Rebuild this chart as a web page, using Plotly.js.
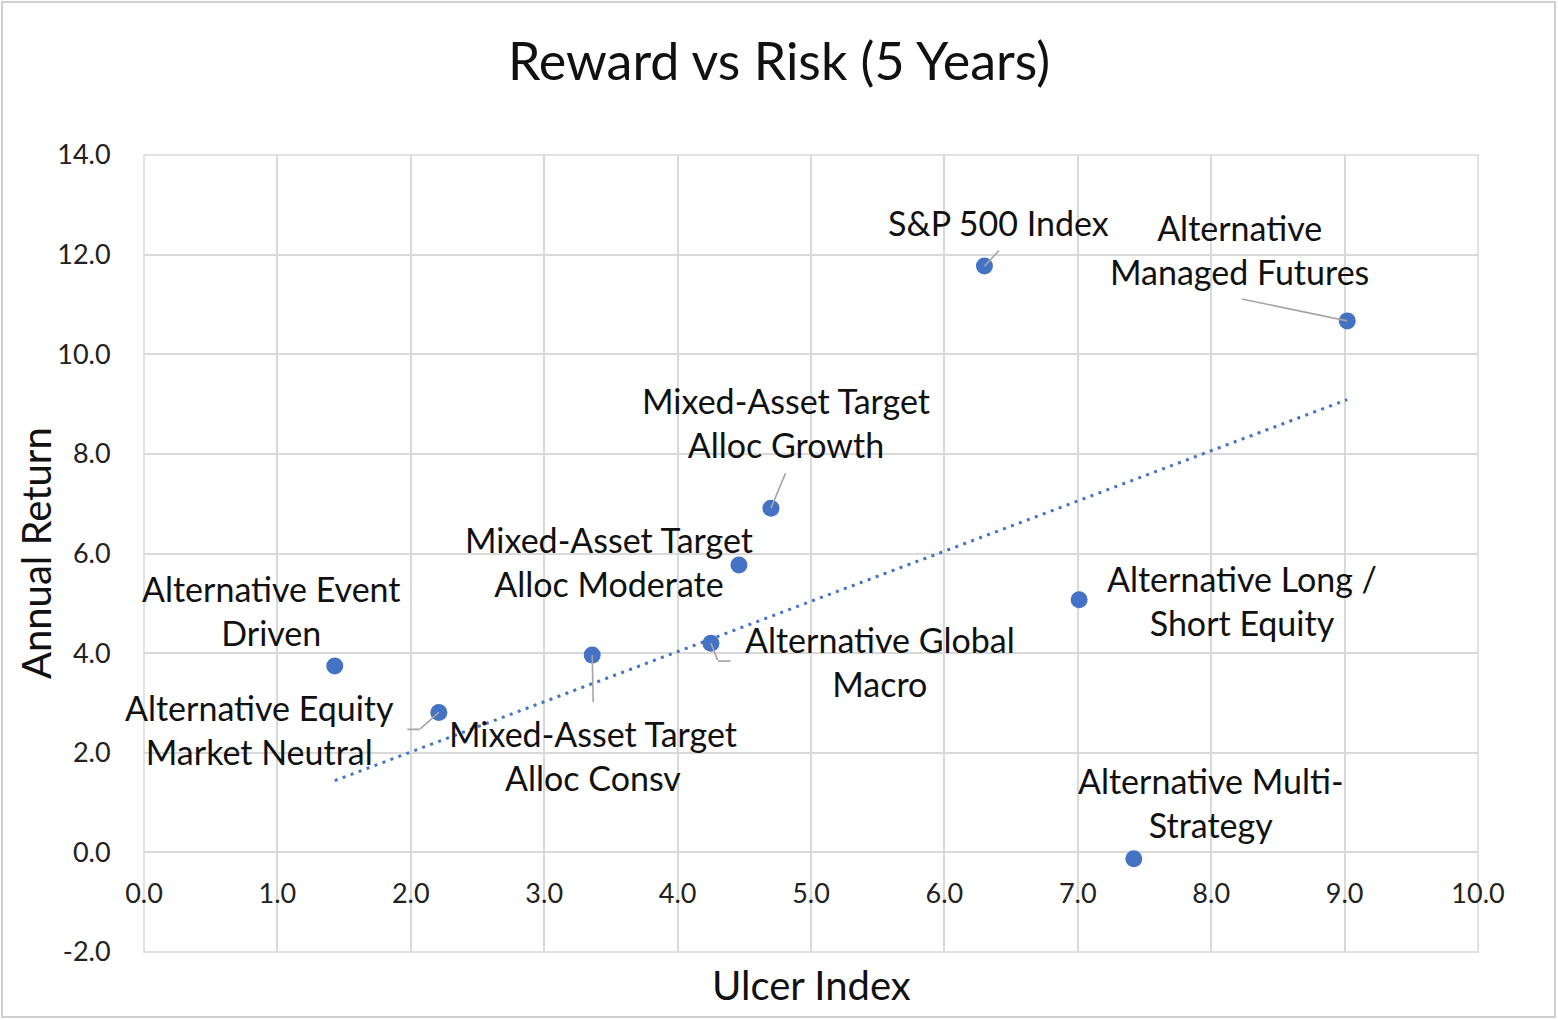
<!DOCTYPE html>
<html><head><meta charset="utf-8">
<script src="https://cdn.plot.ly/plotly-3.0.1.min.js"></script>
<style>html,body{margin:0;padding:0;background:#fff}#chart{width:1558px;height:1020px}</style>
</head><body><div id="chart"></div>
<script>
// ---- data ----
const fundNames = [
  'Alternative Event Driven',
  'Alternative Equity Market Neutral',
  'Mixed-Asset Target Alloc Consv',
  'Alternative Global Macro',
  'Mixed-Asset Target Alloc Moderate',
  'Mixed-Asset Target Alloc Growth',
  'S&P 500 Index',
  'Alternative Long / Short Equity',
  'Alternative Multi-Strategy',
  'Alternative Managed Futures'
];
const labelText = [
  'Alternative Event<br>Driven',
  'Alternative Equity<br>Market Neutral',
  'Mixed-Asset Target<br>Alloc Consv',
  'Alternative Global<br>Macro',
  'Mixed-Asset Target<br>Alloc Moderate',
  'Mixed-Asset Target<br>Alloc Growth',
  'S&P 500 Index',
  'Alternative Long /<br>Short Equity',
  'Alternative Multi-<br>Strategy',
  'Alternative<br>Managed Futures'
];
const ulcerIndex   = [1.43, 2.21, 3.36, 4.25, 4.46, 4.70, 6.30, 7.01, 7.42, 9.02];
const annualReturn = [3.74, 2.81, 3.96, 4.20, 5.77, 6.91, 11.77, 5.07, -0.13, 10.67];
const xTickVals = [0,1,2,3,4,5,6,7,8,9,10];
const yTickVals = [-2,0,2,4,6,8,10,12,14];
const xTickText = xTickVals.map(v => v.toFixed(1));
const yTickText = yTickVals.map(v => v.toFixed(1));

// ---- styling: label placement offsets in pixels (dx right, dy up) ----
const labelShift = [
  [-63, 56], [-179, -17], [1, -100], [169, -18], [-130, 3],
  [15, 86], [14, 44], [163, -1], [77, 56], [-108, 71]
];
// leader segments: [pointIndex, headShiftX, headShiftY(up), ax, ay]
const leaders = [
  [6, 0, 0, 15, -16],
  [9, 0, 0, -106, -22],
  [5, 0, 0, 15, -36],
  [2, 0, 0, 1, 48],
  [3, 0, 0, 7, 18],
  [3, 7, -18, 13, 0],
  [1, 0, 0, -19, 17],
  [1, -19, -17, -13, 0]
];

// trendline: linear fit forced through the origin (as in the reference)
let sxy = 0, sxx = 0;
for (let i = 0; i < ulcerIndex.length; i++) { sxy += ulcerIndex[i]*annualReturn[i]; sxx += ulcerIndex[i]*ulcerIndex[i]; }
const slope = sxy / sxx;
const xMin = Math.min(...ulcerIndex), xMax = Math.max(...ulcerIndex);
const trendX = [xMin, xMax];
const trendY = trendX.map(v => slope*v);

const FONT = 'Lato, "Open Sans", sans-serif';
const BLUE = '#4472C4';
const GRID = '#d9d9d9';

const traces = [
  {
    type: 'scatter', mode: 'markers', x: ulcerIndex, y: annualReturn, text: fundNames,
    marker: {color: BLUE, size: 17}, hoverinfo: 'text+x+y', showlegend: false
  },
  {
    type: 'scatter', mode: 'lines', x: trendX, y: trendY,
    line: {color: BLUE, width: 3, dash: '3px,5.5px'}, hoverinfo: 'skip', showlegend: false
  }
];

const annotations = [];
labelText.forEach((t, i) => {
  annotations.push({
    x: ulcerIndex[i], y: annualReturn[i], xref: 'x', yref: 'y', text: t, showarrow: false,
    xshift: labelShift[i][0], yshift: labelShift[i][1], align: 'center',
    xanchor: 'center', yanchor: 'middle',
    font: {family: FONT, size: 34, color: '#111'}
  });
});
leaders.forEach(l => {
  const i = l[0];
  annotations.push({
    x: ulcerIndex[i], y: annualReturn[i], xref: 'x', yref: 'y', text: ' ',
    showarrow: true, arrowhead: 0, arrowwidth: 1.6, arrowcolor: '#a6a6a6',
    xshift: l[1], yshift: l[2], ax: l[3], ay: l[4], standoff: 0, borderpad: 0,
    font: {size: 1}
  });
});
annotations.push({
  text: 'Ulcer Index', xref: 'paper', yref: 'paper', x: 0.5, y: -0.0415,
  xanchor: 'center', yanchor: 'middle', showarrow: false,
  font: {family: FONT, size: 40, color: '#111'}
});
annotations.push({
  text: 'Annual Return', xref: 'paper', yref: 'paper', x: -0.0813, y: 0.5,
  xanchor: 'center', yanchor: 'middle', showarrow: false, textangle: -90,
  font: {family: FONT, size: 40, color: '#111'}
});

const layout = {
  width: 1558, height: 1020,
  margin: {l: 144, r: 80, t: 155, b: 68, pad: 0},
  paper_bgcolor: '#fff', plot_bgcolor: '#fff',
  title: {
    text: 'Reward vs Risk (5 Years)', xref: 'container', x: 0.5, y: 1 - 62/1020,
    xanchor: 'center', yanchor: 'middle',
    font: {family: FONT, size: 52, color: '#111'}
  },
  xaxis: {
    range: [0, 10], tickvals: xTickVals, ticktext: xTickText,
    showgrid: true, gridcolor: GRID, gridwidth: 1.5, zeroline: false, showline: false,
    anchor: 'free', position: 0.125,
    ticks: 'outside', ticklen: 17, tickcolor: 'rgba(0,0,0,0)',
    tickfont: {family: FONT, size: 27, color: '#222'}
  },
  yaxis: {
    range: [-2, 14], tickvals: yTickVals, ticktext: yTickText,
    showgrid: true, gridcolor: GRID, gridwidth: 1.5, zeroline: false, showline: false,
    ticks: 'outside', ticklen: 27, tickcolor: 'rgba(0,0,0,0)',
    tickfont: {family: FONT, size: 27, color: '#222'}
  },
  shapes: [
    {type: 'rect', xref: 'paper', yref: 'paper', x0: 0, x1: 1, y0: 0, y1: 1,
     line: {color: GRID, width: 1.5}, layer: 'below'},
    {type: 'rect', xref: 'paper', yref: 'paper',
     x0: (2-144)/1334, x1: (1555-144)/1334, y0: (952-1017)/797, y1: (952-2)/797,
     line: {color: '#d0d0d0', width: 2}, layer: 'below'}
  ],
  annotations: annotations,
  hovermode: 'closest'
};

Plotly.newPlot('chart', traces, layout, {displayModeBar: false, responsive: false});
</script>
</body></html>
